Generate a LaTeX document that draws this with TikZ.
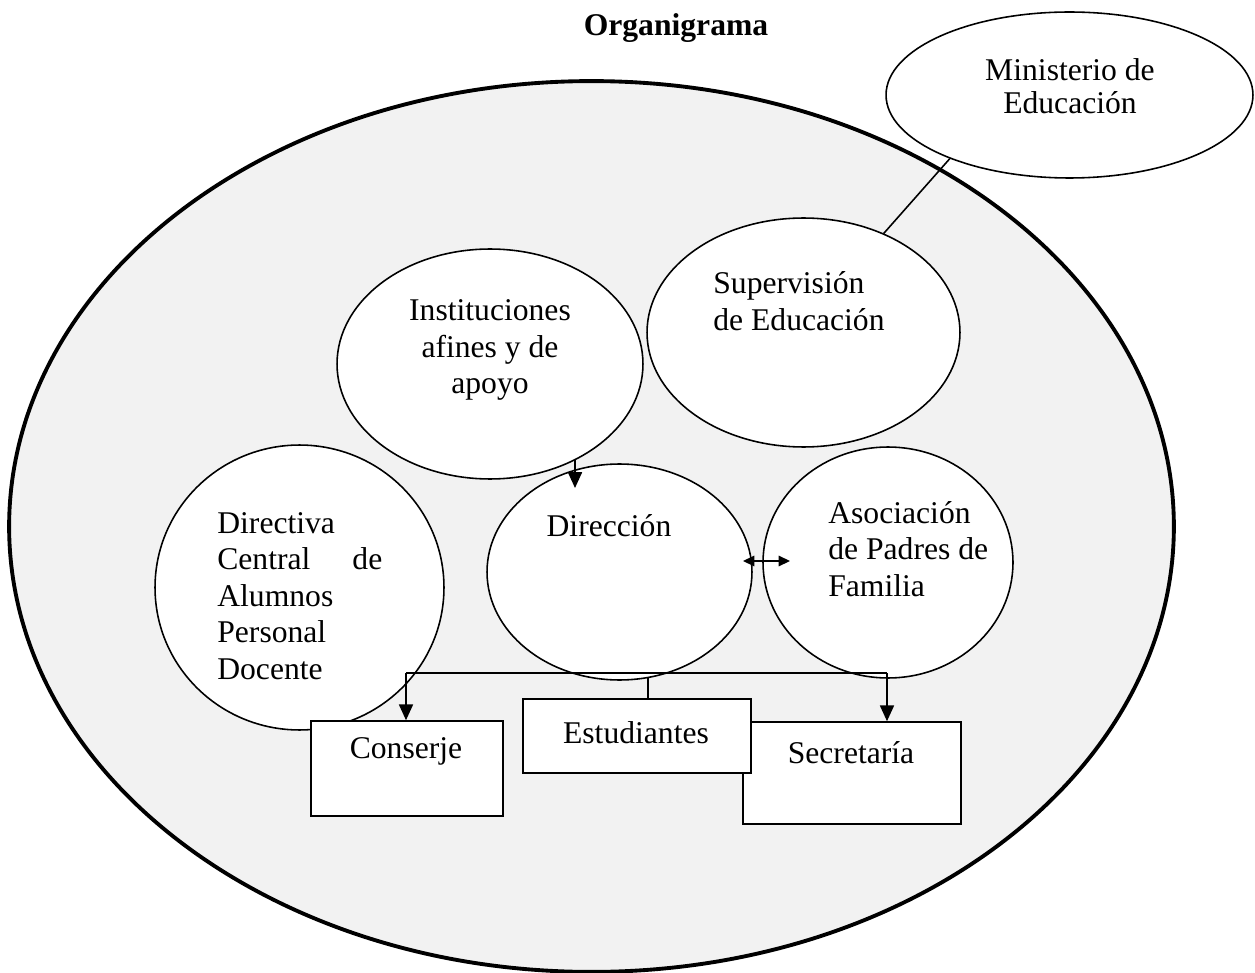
\documentclass[tikz,border=0pt]{standalone}
\usepackage{fontspec}
\setmainfont{Liberation Serif}
\usetikzlibrary{arrows.meta,shapes.geometric,calc}
\definecolor{bgray}{HTML}{F2F2F2}
\begin{document}
\begin{tikzpicture}[x=0.02cm,y=-0.02cm,
  oval/.style={ellipse, draw, fill=white, line width=0.9pt, inner sep=0pt},
  lbl/.style={font=\fontsize{18}{20.8}\selectfont, inner sep=0pt},
  box/.style={rectangle, draw, fill=white, line width=0.9pt, inner sep=0pt},
  conn/.style={line width=0.9pt},
  arr/.style={conn, -{Triangle[length=9pt,width=8pt]}},
  darr/.style={conn, {Triangle[length=6.5pt,width=6pt]}-{Triangle[length=6.5pt,width=6pt]}}]
\useasboundingbox (0,0) rectangle (1255,973);

% outer ellipse
\node[ellipse, draw, fill=bgray, line width=2.2pt, inner sep=0pt,
      minimum width=23.3cm, minimum height=17.82cm] (outer) at (591.5,526.5) {};

% ellipses
\node[oval, minimum width=7.34cm, minimum height=3.32cm] (min) at (1069.5,95) {};
\node[oval, minimum width=6.26cm, minimum height=4.58cm] (sup) at (803.5,332.5) {};
\node[oval, minimum width=6.12cm, minimum height=4.6cm] (inst) at (490,364) {};
\node[oval, minimum width=5.78cm, minimum height=5.7cm] (dirc) at (299.5,587.5) {};
\node[oval, minimum width=5.3cm, minimum height=4.32cm] (dir) at (619.5,572) {};
\node[oval, minimum width=5.0cm, minimum height=4.62cm] (asoc) at (888,562.5) {};

% boxes
\node[box, minimum width=3.84cm, minimum height=1.9cm] (cons) at (407,768.5) {};
\node[box, minimum width=4.36cm, minimum height=2.04cm] (sec) at (852,773) {};
\node[box, minimum width=4.56cm, minimum height=1.48cm] (est) at (637,736) {};

% connectors
\draw[conn] (min.208.1) -- (sup.51.4);
\coordinate (t1) at (575,488);
\draw[arr] (t1 |- inst.-48.8) -- (t1);
\coordinate (d1) at (743,561);
\coordinate (d2) at (790,561);
\draw[darr] (d1) -- (d2);
\coordinate (hl) at (406,673);
\coordinate (hr) at (887,673);
\draw[conn] (hl) -- (hr);
\draw[arr] (hl) -- (hl |- cons.north);
\draw[arr] (hr) -- (hr |- sec.north);
\draw[conn] (dir.-75.6) -- (dir.-75.6 |- est.north);

% texts
\node[lbl, font=\bfseries\fontsize{18}{20.8}\selectfont] (title) at (676,28) {Organigrama};
\node[lbl, font=\fontsize{18}{18.8}\selectfont, align=center] (tmin) at (1070,86) {Ministerio de\\Educación};
\node[lbl, align=left, anchor=west] (tsup) at (713,301) {Supervisión\\de Educación};
\node[lbl, align=center] (tinst) at (490,350) {Instituciones\\afines y de\\apoyo};
\node[lbl, text width=3.3cm, align=left, anchor=west] (tdirc) at (217,596) {Directiva\\Central\hfill de\\Alumnos\\Personal\\Docente};
\node[lbl] (tdir) at (609,526) {Dirección};
\node[lbl, align=left, anchor=west] (tasoc) at (828,549) {Asociación\\de Padres de\\Familia};
\node[lbl] (tcons) at (406,751) {Conserje};
\node[lbl] (test) at (636,733) {Estudiantes};
\node[lbl] (tsec) at (851,753) {Secretaría};
\end{tikzpicture}
\end{document}
